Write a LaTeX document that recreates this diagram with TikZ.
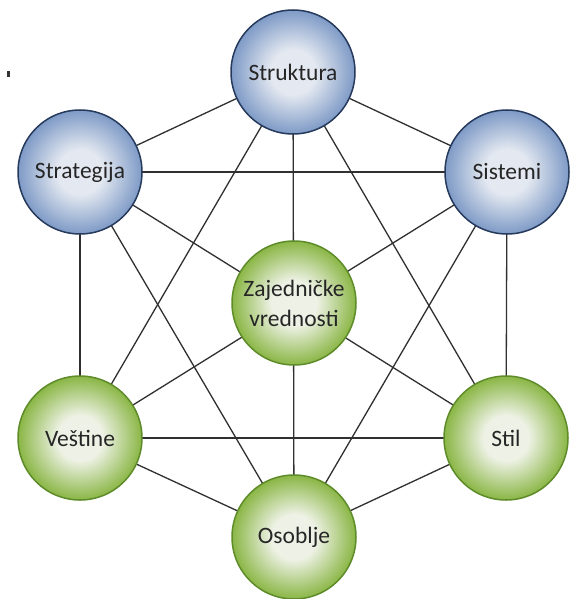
\documentclass[tikz,border=0pt]{standalone}
\usepackage{fontspec}
\setmainfont{Carlito}
\usetikzlibrary{backgrounds}

\definecolor{blueIn}{HTML}{E4E9F1}
\definecolor{blueOut}{HTML}{7E9AC6}
\definecolor{blueLine}{HTML}{263A5C}
\definecolor{greenIn}{HTML}{EEF2E6}
\definecolor{greenOut}{HTML}{8AB645}
\definecolor{greenLine}{HTML}{5F8C2B}
\definecolor{linkGray}{HTML}{303030}

% the circle's rim lies at 25bp of the shading
\pgfdeclareradialshading{bluesh}{\pgfpoint{0bp}{0bp}}{%
  color(0bp)=(blueIn); color(9bp)=(blueIn); color(25bp)=(blueOut); color(50bp)=(blueOut)}
\pgfdeclareradialshading{greensh}{\pgfpoint{0bp}{0bp}}{%
  color(0bp)=(greenIn); color(9bp)=(greenIn); color(25bp)=(greenOut); color(50bp)=(greenOut)}

\tikzset{
  ball/.style={circle, minimum size=124pt, inner sep=0pt, line width=1.5pt,
    align=center, text=black!85, font=\fontsize{23.5}{30}\selectfont},
  blueball/.style={ball, draw=blueLine, shading=bluesh},
  greenball/.style={ball, draw=greenLine, shading=greensh},
  link/.style={draw=linkGray, line width=1.3pt}
}

\begin{document}
\begin{tikzpicture}[x=1pt, y=-1pt]
  \useasboundingbox (0,0) rectangle (573,599);

  % the seven elements
  \node[blueball]  (str) at (293,72)  {Struktura};
  \node[blueball]  (stg) at (80,172)  {Strategija};
  \node[blueball]  (sis) at (507,172) {Sistemi};
  \node[greenball] (zaj) at (294,303) {Zajedničke\\vrednosti};
  \node[greenball] (ves) at (80,438)  {Veštine};
  \node[greenball] (sti) at (506,438) {Stil};
  \node[greenball] (oso) at (294,537) {Osoblje};

  % stray mark at the left edge
  \coordinate (markA) at (8.5,71);
  \coordinate (markB) at (8.5,77);
  \draw[black!80, line width=2.2pt] (markA) -- (markB);

  % the six outer elements are all linked; the lines between opposite
  % elements run behind the central one
  \begin{scope}[on background layer]
    \fill[white] (0,0) rectangle (573,599);
    \foreach \a/\b in {str/stg, str/sis, str/ves, str/sti, str/oso,
                       stg/sis, stg/ves, stg/sti, stg/oso,
                       sis/ves, sis/sti, sis/oso,
                       ves/sti, ves/oso, sti/oso}
      \draw[link] (\a.center) -- (\b.center);
  \end{scope}
\end{tikzpicture}
\end{document}
